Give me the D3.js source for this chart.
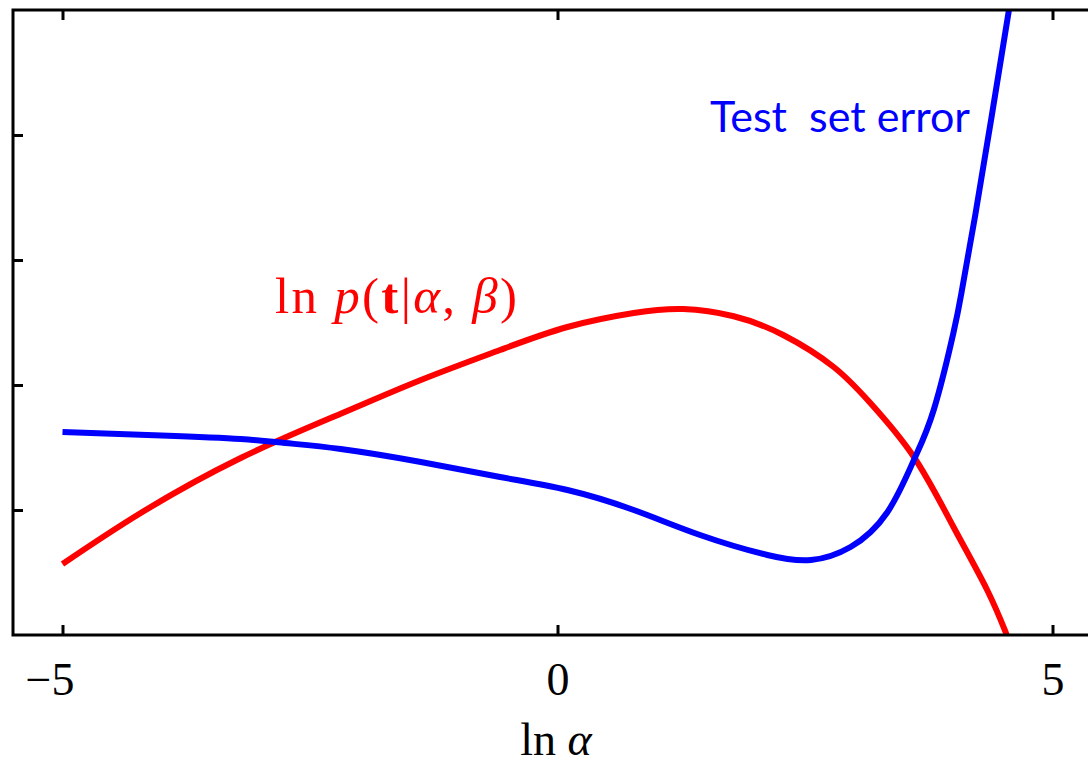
<!DOCTYPE html>
<html>
<head>
<meta charset="utf-8">
<script src="https://cdn.jsdelivr.net/npm/d3@7"></script>
<style>
  html, body { margin: 0; padding: 0; background: #fff; }
  svg { display: block; }
</style>
</head>
<body>
<script>
// ---- data ----
const xTicks = [-5, 0, 5];
const xTickLabels = ["\u22125", "0", "5"];
const yTicks = [0, 1, 2, 3, 4, 5];

const testLnAlpha = [-5.0, -4.0, -3.2, -2.75, -2.19, -1.38, -0.58, 0.10, 0.77, 1.44, 2.12, 2.56, 2.96, 3.33, 3.60, 3.80, 4.00, 4.09, 4.22, 4.40, 4.56, 4.62];
const testError   = [1.624, 1.596, 1.568, 1.536, 1.488, 1.384, 1.264, 1.16, 1.00, 0.80, 0.64, 0.60, 0.704, 0.98, 1.40, 1.80, 2.42, 2.78, 3.36, 4.22, 5.0, 5.3];

const evLnAlpha = [-5.0, -4.21, -3.2, -2.19, -1.38, -0.58, 0.10, 0.77, 1.27, 1.78, 2.28, 2.79, 3.16, 3.60, 4.00, 4.34, 4.53, 4.56];
const evValue   = [0.568, 0.976, 1.416, 1.77, 2.04, 2.28, 2.464, 2.576, 2.608, 2.55, 2.40, 2.144, 1.856, 1.424, 0.864, 0.36, 0.016, -0.04];

const testLabel = "Test  set error";

// ---- layout ----
const W = 1088, H = 767;
const svg = d3.select("body").append("svg").attr("width", W).attr("height", H);

const x = d3.scaleLinear().domain([-5.5, 5.5]).range([13, 13 + 11 * 99]);
const y = d3.scaleLinear().domain([0, 5]).range([635, 10]);

svg.append("defs").append("clipPath").attr("id", "clip")
  .append("rect")
  .attr("x", x(-5.5)).attr("y", y(5))
  .attr("width", x(5.5) - x(-5.5)).attr("height", y(0) - y(5));

// curves
const line = d3.line().x(d => x(d[0])).y(d => y(d[1])).curve(d3.curveNatural);
const g = svg.append("g").attr("clip-path", "url(#clip)");
g.append("path")
  .datum(evLnAlpha.map((v, i) => [v, evValue[i]]))
  .attr("d", line).attr("fill", "none").attr("stroke", "#ff0000").attr("stroke-width", 6);
g.append("path")
  .datum(testLnAlpha.map((v, i) => [v, testError[i]]))
  .attr("d", line).attr("fill", "none").attr("stroke", "#0000ff").attr("stroke-width", 6);

// axes box
const axStyle = sel => {
  sel.selectAll("path.domain").remove();
  sel.selectAll(".tick line").attr("stroke", "#000").attr("stroke-width", 3);
};
const bottomAxis = svg.append("g").attr("transform", `translate(0,${y(0)})`)
  .call(d3.axisBottom(x).tickValues(xTicks).tickSize(-10).tickPadding(27)
        .tickFormat((d, i) => xTickLabels[i]));
axStyle(bottomAxis);
bottomAxis.selectAll(".tick text")
  .attr("text-anchor", "end")
  .attr("x", 11.5)
  .attr("font-family", "'Liberation Serif', 'Times New Roman', serif")
  .attr("font-size", 46)
  .attr("fill", "#000");

const topAxis = svg.append("g").attr("transform", `translate(0,${y(5)})`)
  .call(d3.axisTop(x).tickValues(xTicks).tickSize(-10).tickFormat(""));
axStyle(topAxis);

const leftAxis = svg.append("g").attr("transform", `translate(${x(-5.5)},0)`)
  .call(d3.axisLeft(y).tickValues(yTicks.slice(1, -1)).tickSize(-10).tickFormat(""));
axStyle(leftAxis);

const rightAxis = svg.append("g").attr("transform", `translate(${x(5.5)},0)`)
  .call(d3.axisRight(y).tickValues(yTicks.slice(1, -1)).tickSize(-10).tickFormat(""));
axStyle(rightAxis);

svg.append("rect")
  .attr("x", x(-5.5)).attr("y", y(5))
  .attr("width", x(5.5) - x(-5.5)).attr("height", y(0) - y(5))
  .attr("fill", "none").attr("stroke", "#000").attr("stroke-width", 3);

// x label: ln α
const xl = svg.append("text")
  .attr("x", 556).attr("y", 755)
  .attr("text-anchor", "middle")
  .attr("font-family", "'Liberation Serif', 'Times New Roman', serif")
  .attr("font-size", 46).attr("fill", "#000");
xl.append("tspan").text("ln ");
xl.append("tspan").attr("font-style", "italic").text("\u03B1");

// red label: ln p(t|α, β)
const rl = svg.append("text")
  .attr("x", 275).attr("y", 313)
  .attr("font-family", "'Liberation Serif', 'Times New Roman', serif")
  .attr("font-size", 51).attr("fill", "#ff0000")
  .attr("textLength", 242).attr("lengthAdjust", "spacing")
  .style("white-space", "pre");
rl.append("tspan").text("ln ");
rl.append("tspan").attr("font-style", "italic").text("p");
rl.append("tspan").text("(");
rl.append("tspan").attr("font-weight", "bold").text("t");
rl.append("tspan").text("|");
rl.append("tspan").attr("font-style", "italic").text("\u03B1");
rl.append("tspan").text(", ");
rl.append("tspan").attr("font-style", "italic").text("\u03B2");
rl.append("tspan").text(")");

// blue label
svg.append("text")
  .attr("x", 710).attr("y", 132)
  .attr("font-family", "Lato, 'Open Sans', sans-serif")
  .attr("font-size", 43).attr("fill", "#0000ff")
  .attr("textLength", 260).attr("lengthAdjust", "spacing")
  .style("white-space", "pre")
  .text(testLabel);
</script>
</body>
</html>
